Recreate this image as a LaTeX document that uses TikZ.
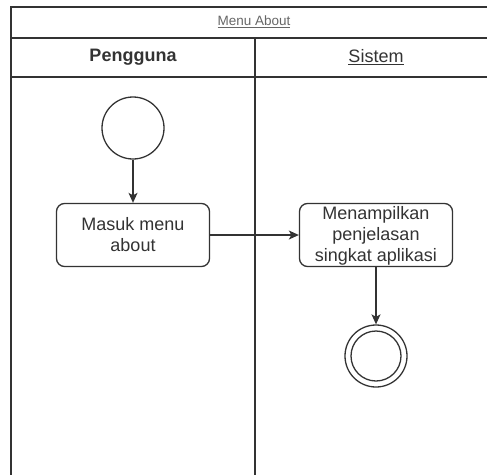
\documentclass[tikz,border=0pt]{standalone}
\usepackage{fontspec}
\setmainfont{Liberation Sans}
\usetikzlibrary{arrows.meta}
\definecolor{ink}{HTML}{333333}
\definecolor{soft}{HTML}{666666}
\tikzset{
  lane/.style={draw=ink, line width=1.4pt},
  action/.style={draw=ink, line width=1.3pt, rounded corners=8pt, fill=white,
    minimum width=153pt, minimum height=63pt, inner sep=0pt},
  label/.style={text=ink, font=\fontsize{18}{21}\selectfont, align=center},
  flow/.style={draw=ink, line width=1.3pt, -{Stealth[length=10pt,width=9pt,inset=2.5pt]}},
}
\begin{document}
\begin{tikzpicture}[x=1pt,y=-1pt]
\useasboundingbox (0,0) rectangle (487,474);
\clip (0,0) rectangle (487,474);
% swimlane frame
\draw[lane] (11,490) -- (11,7) -- (500,7);
\draw[lane] (11,38) -- (500,38);
\draw[lane] (11,77) -- (500,77);
\draw[lane] (255,38) -- (255,490);
% headers
\node[text=soft, font=\fontsize{13.5}{16}\selectfont] (title) at (254,22) {\underline{Menu About}};
\node[text=ink, font=\fontsize{18}{21}\selectfont\bfseries] (lane1) at (133,57) {Pengguna};
\node[text=ink, font=\fontsize{18}{21}\selectfont] (lane2) at (376,57) {\underline{Sistem}};
% nodes
\node[draw=ink, line width=1.3pt, circle, minimum size=62pt, inner sep=0pt] (start) at (133,128) {};
\node[action, label] (masuk) at (133,235) {Masuk menu\\about};
\node[action] (tampil) at (376,235) {};
\node[label] (tampiltxt) at (376,236) {Menampilkan\\penjelasan\\singkat aplikasi};
\node[draw=ink, line width=1.3pt, circle, minimum size=62pt, inner sep=0pt] (end) at (376,356) {};
\node[draw=ink, line width=1.3pt, circle, minimum size=50pt, inner sep=0pt] (endin) at (376,356) {};
% flows
\draw[flow] (start) -- (masuk);
\draw[flow] (masuk) -- (tampil);
\draw[flow] (tampil) -- (end);
\end{tikzpicture}
\end{document}
